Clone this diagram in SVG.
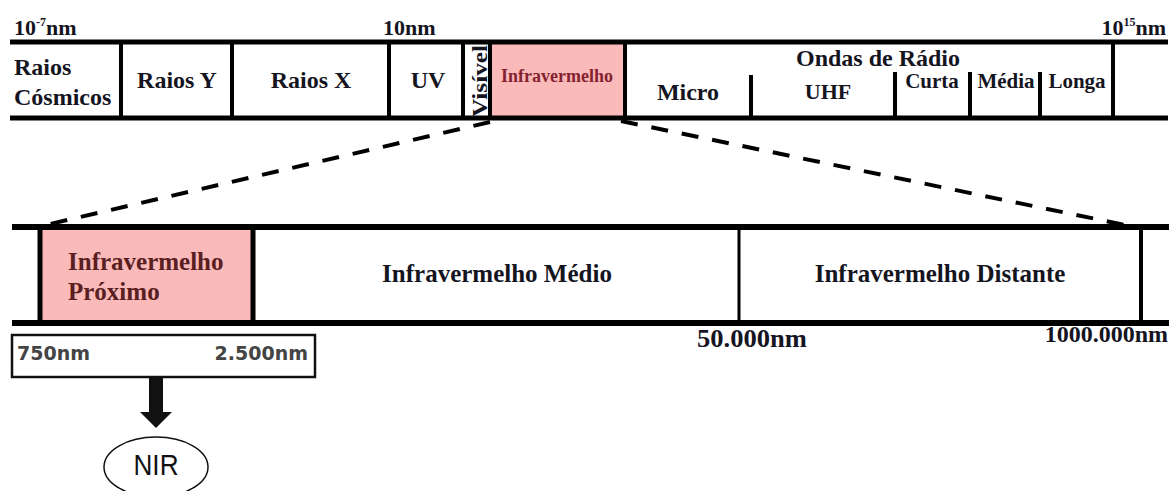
<svg xmlns="http://www.w3.org/2000/svg" width="1176" height="491" viewBox="0 0 1176 491">
<style>
.s{font-family:"Liberation Serif","Times New Roman",serif;font-weight:bold;fill:#15151f}
.m{text-anchor:middle}
.ln{stroke:#000;stroke-linecap:butt;fill:none}
.dash{stroke:#000;stroke-width:4;stroke-dasharray:17 14;fill:none}
.pink{fill:#fbbaba}
.sans{font-family:"DejaVu Sans","Liberation Sans",sans-serif;font-weight:bold;fill:#444;font-size:19px}
</style>
<rect width="1176" height="491" fill="#fff"/>

<g id="scale-top">
  <text class="s" x="14" y="35" font-size="22">10<tspan dy="-9" font-size="12">-7</tspan><tspan dy="9">nm</tspan></text>
  <text class="s" x="383" y="35" font-size="22">10nm</text>
  <text class="s" x="1166" y="35" font-size="22" text-anchor="end">10<tspan dy="-9" font-size="12">15</tspan><tspan dy="9">nm</tspan></text>
</g>

<g id="band-top">
  <rect id="infra-box" class="pink" x="490" y="44" width="135" height="74"/>
  <line class="ln" x1="10" y1="42" x2="1168" y2="42" stroke-width="5"/>
  <line class="ln" x1="10" y1="118" x2="1168" y2="118" stroke-width="5"/>
  <g class="ln" stroke-width="4">
    <line x1="121" y1="42" x2="121" y2="118"/>
    <line x1="232" y1="42" x2="232" y2="118"/>
    <line x1="389" y1="42" x2="389" y2="118"/>
    <line x1="463" y1="42" x2="463" y2="118"/>
    <line x1="490" y1="42" x2="490" y2="118"/>
    <line x1="625" y1="42" x2="625" y2="118"/>
    <line x1="751" y1="75" x2="751" y2="118"/>
    <line x1="895" y1="72" x2="895" y2="118"/>
    <line x1="970" y1="72" x2="970" y2="118"/>
    <line x1="1040" y1="72" x2="1040" y2="118"/>
    <line x1="1113" y1="42" x2="1113" y2="118"/>
  </g>
</g>

<g id="raios-cosmicos"><text class="s" x="14" y="75" font-size="24">Raios</text><text class="s" x="14" y="105" font-size="24">Cósmicos</text></g>
<g id="raios-y"><text class="s m" x="177" y="88" font-size="24">Raios Y</text></g>
<g id="raios-x"><text class="s m" x="311" y="88" font-size="24">Raios X</text></g>
<g id="uv"><text class="s m" x="428" y="88" font-size="24">UV</text></g>
<g id="visivel"><text class="s m" transform="translate(487,81) rotate(-90)" font-size="22" textLength="72" lengthAdjust="spacingAndGlyphs">Visível</text></g>
<g id="infravermelho"><text class="s m" x="557" y="82" font-size="18" style="fill:#84222f">Infravermelho</text></g>
<g id="micro"><text class="s m" x="688" y="100" font-size="24">Micro</text></g>
<g id="ondas-radio"><text class="s m" x="878" y="66" font-size="24">Ondas de Rádio</text></g>
<g id="uhf"><text class="s m" x="828" y="99" font-size="22">UHF</text></g>
<g id="curta"><text class="s m" x="932" y="88" font-size="21">Curta</text></g>
<g id="media"><text class="s m" x="1006" y="88" font-size="21">Média</text></g>
<g id="longa"><text class="s m" x="1077" y="88" font-size="21">Longa</text></g>

<g id="connectors">
  <line class="dash" x1="490" y1="122" x2="50" y2="224"/>
  <line class="dash" x1="621" y1="121" x2="1125" y2="225"/>
  <path d="M149,370 H163 V412 H172 L156,428 L140,412 H149 Z" fill="#111"/>
</g>

<g id="band-bottom">
  <rect id="nir-box" class="pink" x="40" y="227" width="213" height="96"/>
  <line class="ln" x1="12" y1="227" x2="1169" y2="227" stroke-width="6"/>
  <line class="ln" x1="12" y1="323" x2="1169" y2="323" stroke-width="6"/>
  <line class="ln" x1="40" y1="227" x2="40" y2="323" stroke-width="5"/>
  <line class="ln" x1="253" y1="227" x2="253" y2="323" stroke-width="5"/>
  <line class="ln" x1="739" y1="227" x2="739" y2="323" stroke-width="3"/>
  <line class="ln" x1="1141" y1="227" x2="1141" y2="323" stroke-width="4"/>
</g>

<g id="ir-proximo"><text class="s" x="68" y="270" font-size="25" style="fill:#5a1f22">Infravermelho</text><text class="s" x="68" y="300" font-size="25" style="fill:#5a1f22">Próximo</text></g>
<g id="ir-medio"><text class="s m" x="497" y="282" font-size="25">Infravermelho Médio</text></g>
<g id="ir-distante"><text class="s m" x="940" y="282" font-size="25">Infravermelho Distante</text></g>

<g id="scale-bottom">
  <text class="s" x="697" y="347" font-size="25" textLength="110" lengthAdjust="spacingAndGlyphs">50.000nm</text>
  <text class="s" x="1168" y="342" font-size="24" text-anchor="end">1000.000nm</text>
</g>

<g id="range-box">
  <rect x="12" y="335" width="303" height="42" fill="#fff" stroke="#111" stroke-width="2.5"/>
  <text class="sans" x="17" y="360">750nm</text>
  <text class="sans" x="308" y="360" text-anchor="end">2.500nm</text>
</g>

<g id="nir">
  <ellipse cx="156" cy="467" rx="52" ry="30" fill="#fff" stroke="#111" stroke-width="1.5"/>
  <text x="156" y="475" text-anchor="middle" font-family="Liberation Sans, Arial, sans-serif" font-size="30" fill="#111" textLength="45" lengthAdjust="spacingAndGlyphs">NIR</text>
</g>
</svg>
